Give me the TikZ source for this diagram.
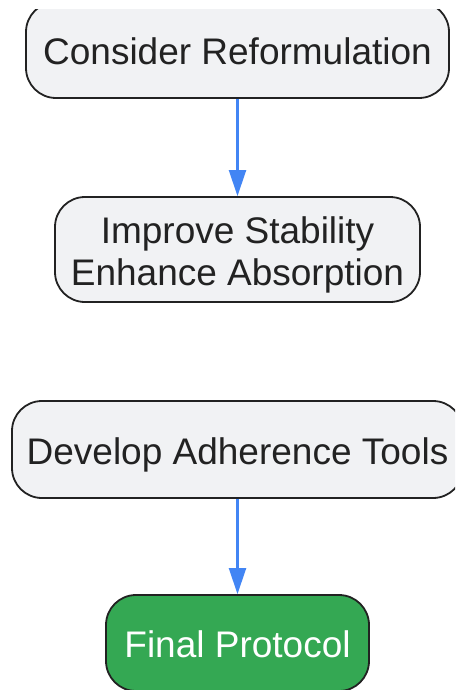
\documentclass[tikz,border=0pt]{standalone}
\usepackage{fontspec}
\setmainfont{Liberation Sans}
\usetikzlibrary{arrows.meta}
\definecolor{boxfill}{HTML}{F1F2F4}
\definecolor{boxline}{HTML}{222222}
\definecolor{arrblue}{HTML}{4285F4}
\definecolor{gfill}{HTML}{34A853}
\definecolor{txt}{HTML}{222222}
\tikzset{
  flowbox/.style={draw=boxline, line width=1.8pt, fill=boxfill, rounded corners=30pt,
    inner sep=0pt, align=center, text=txt, text height=29.8pt, text depth=0pt,
    font=\fontsize{37}{42}\selectfont},
  finalbox/.style={flowbox, fill=gfill, text=white},
  arr/.style={draw=arrblue, line width=2.2pt, -{Triangle[length=26pt,width=17pt]}}
}
\begin{document}
\begin{tikzpicture}[x=1pt,y=-1pt]
\useasboundingbox (0,0) rectangle (455,690);
\clip (0,10) rectangle (455,690);
\node[flowbox, minimum width=423pt, minimum height=96pt] (n1) at (237.5,50) {Consider Reformulation};
\node[flowbox, text height=71.8pt, minimum width=365pt, minimum height=105pt] (n2) at (237.5,249.5) {Improve Stability\\Enhance Absorption};
\node[flowbox, minimum width=451pt, minimum height=97pt] (n3) at (237.5,449.5) {Develop Adherence Tools};
\node[finalbox, minimum width=263pt, minimum height=96pt] (n4) at (237.5,643) {Final Protocol};
\draw[arr] (n1) -- (n2);
\draw[arr] (n3) -- (n4);
\end{tikzpicture}
\end{document}
